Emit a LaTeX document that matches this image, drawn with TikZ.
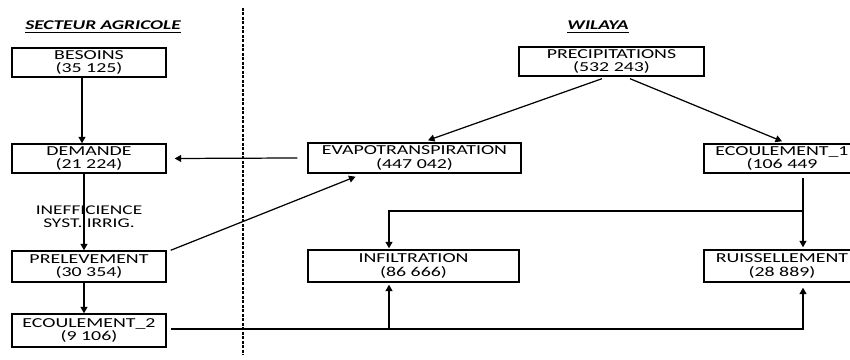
\documentclass[tikz,border=0pt]{standalone}
\usepackage{fontspec}
\setmainfont{Carlito}[FakeStretch=1.45]
\usetikzlibrary{arrows.meta,calc}

\begin{document}
\begin{tikzpicture}[x=1cm,y=1cm,
  box/.style={draw,line width=0.8pt,inner sep=0pt,align=center,font=\fontsize{7.8}{7.6}\selectfont},
  flow/.style={-{Triangle[length=1.3mm,width=1.4mm]},line width=0.7pt},
  head/.style={font=\fontsize{7.6}{8}\selectfont\bfseries\itshape}]
\useasboundingbox (0,0) rectangle (17,7.2);
\draw[line width=0.6pt,dash pattern=on 0.06cm off 0.03cm] (4.86,7.04)--(4.86,0.1);
\node[head] (secteur) at (2.06,6.66) {\underline{SECTEUR AGRICOLE}};
\node[head] (wilaya) at (11.96,6.66) {\underline{WILAYA}};
% secteur agricole
\node[box,minimum width=3.08cm,minimum height=0.58cm] (besoins) at (1.78,5.95) {BESOINS\\(35 125)};
\node[box,minimum width=3.08cm,minimum height=0.58cm] (demande) at (1.78,4.03) {DEMANDE\\(21 224)};
\node[box,minimum width=3.08cm,minimum height=0.62cm] (prelev) at (1.78,1.87) {PRELEVEMENT\\(30 354)};
\node[box,minimum width=3.08cm,minimum height=0.66cm] (ecoul2) at (1.78,0.59) {ECOULEMENT\_2\\(9 106)};
% wilaya
\node[box,minimum width=3.70cm,minimum height=0.58cm] (precip) at (12.23,5.97) {PRECIPITATIONS\\(532 243)};
\node[box,minimum width=4.26cm,minimum height=0.60cm] (evapo) at (8.29,4.04) {EVAPOTRANSPIRATION\\(447 042)};
\node[box,minimum width=3.12cm,minimum height=0.58cm] (ecoul1) at (15.64,4.03) {ECOULEMENT\_1\\(106 449};
\node[box,minimum width=4.22cm,minimum height=0.64cm] (infil) at (8.27,1.88) {INFILTRATION\\(86 666)};
\node[box,minimum width=3.12cm,minimum height=0.64cm] (ruiss) at (15.64,1.88) {RUISSELLEMENT\\(28 889)};
\coordinate (split1) at (16.06,2.98);\coordinate (split2) at (7.78,0.62);
\draw[flow] ([xshift=-0.14cm]besoins.south)--([xshift=-0.14cm]demande.north);
\draw[flow] ([xshift=-0.1cm]demande.south)--([xshift=-0.1cm]prelev.north) node[midway,font=\fontsize{7.6}{7.6}\selectfont,align=center,xshift=0.1cm,yshift=-0.1cm] (ineff) {INEFFICIENCE\\SYST. IRRIG.};
\draw[flow] ([xshift=-0.1cm]prelev.south)--([xshift=-0.1cm]ecoul2.north);
\draw[flow] ([xshift=-0.2cm]evapo.west)--([xshift=0.16cm]demande.east);
\draw[flow] ([xshift=0.08cm]prelev.north east)--([xshift=-1.18cm,yshift=-0.06cm]evapo.south);
\draw[flow] ([xshift=-0.19cm,yshift=-0.04cm]precip.south)--([xshift=0.27cm,yshift=0.04cm]evapo.north);
\draw[flow] ([xshift=0.37cm,yshift=-0.04cm]precip.south)--([yshift=0.04cm]ecoul1.north);
\draw[flow] ([xshift=0.42cm,yshift=-0.08cm]ecoul1.south)--([xshift=0.42cm,yshift=0.04cm]ruiss.north);
\draw[flow] (split1)-|([xshift=-0.49cm,yshift=0.02cm]infil.north);
\draw[flow] ([xshift=0.08cm,yshift=0.03cm]ecoul2.east)-|([xshift=0.42cm,yshift=-0.1cm]ruiss.south);
\draw[flow] (split2)--([xshift=-0.49cm,yshift=-0.04cm]infil.south);
\end{tikzpicture}
\end{document}
